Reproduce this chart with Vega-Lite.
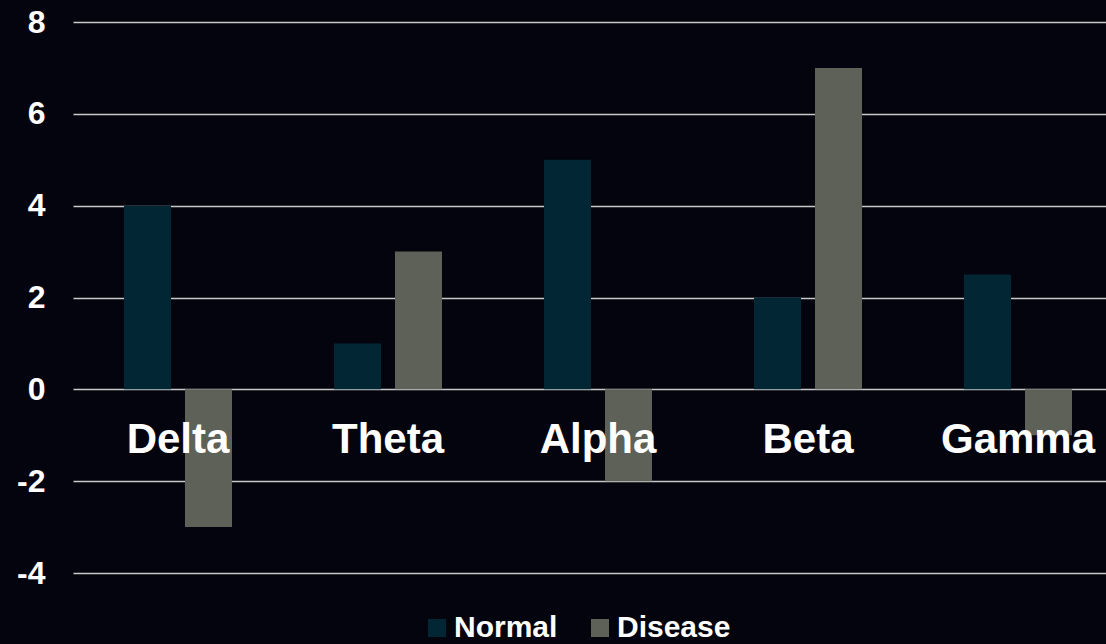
{
  "$schema": "https://vega.github.io/schema/vega-lite/v6.json",
  "width": 1050,
  "height": 551,
  "autosize": "none",
  "padding": {"left": 73, "top": 22, "right": 0, "bottom": 71},
  "background": "#04040e",
  "config": {"view": {"stroke": null}, "font": "Liberation Sans"},
  "data": {
    "values": [
      {"band": "Delta", "series": "Normal", "value": 4},
      {"band": "Delta", "series": "Disease", "value": -3},
      {"band": "Theta", "series": "Normal", "value": 1},
      {"band": "Theta", "series": "Disease", "value": 3},
      {"band": "Alpha", "series": "Normal", "value": 5},
      {"band": "Alpha", "series": "Disease", "value": -2},
      {"band": "Beta", "series": "Normal", "value": 2},
      {"band": "Beta", "series": "Disease", "value": 7},
      {"band": "Gamma", "series": "Normal", "value": 2.5},
      {"band": "Gamma", "series": "Disease", "value": -1}
    ]
  },
  "layer": [
    {
      "mark": {"type": "bar"},
      "encoding": {
        "x": {"field": "band", "type": "nominal", "sort": null, "scale": {"paddingInner": 0, "paddingOuter": 0}, "axis": null},
        "xOffset": {"field": "series", "type": "nominal", "sort": ["Normal", "Disease"], "scale": {"paddingInner": 0.2295, "paddingOuter": 0.836}},
        "y": {
          "field": "value", "type": "quantitative",
          "scale": {"domain": [-4, 8], "nice": false, "zero": false},
          "axis": {
            "values": [-4, -2, 0, 2, 4, 6, 8], "title": null, "grid": true,
            "labelExpr": "replace(datum.label, '−', '-')",
            "gridColor": "#c8c8c8", "gridWidth": 1.6, "domain": false, "ticks": false,
            "labelFont": "Liberation Sans", "labelFontSize": 32, "labelFontWeight": "bold",
            "labelColor": "#ffffff", "labelPadding": 28
          }
        },
        "color": {
          "field": "series", "type": "nominal",
          "scale": {"domain": ["Normal", "Disease"], "range": ["#022633", "#5e6157"]},
          "legend": {
            "title": null, "orient": "none", "legendX": 349, "legendY": 591,
            "direction": "horizontal", "symbolType": "square", "symbolSize": 324,
            "symbolStrokeWidth": 0, "symbolOpacity": 1,
            "labelFont": "Liberation Sans", "labelFontSize": 30, "labelFontWeight": "bold",
            "labelColor": "#ffffff", "labelOffset": 2, "columnPadding": 27, "labelLimit": 300
          }
        }
      }
    },
    {
      "transform": [{"filter": "datum.series == 'Normal'"}],
      "mark": {"type": "text", "font": "Liberation Sans", "fontSize": 42, "fontWeight": "bold", "color": "#ffffff", "baseline": "alphabetic", "dy": 64},
      "encoding": {
        "x": {"field": "band", "type": "nominal", "sort": null},
        "y": {"datum": 0, "type": "quantitative"},
        "text": {"field": "band"}
      }
    }
  ]
}
